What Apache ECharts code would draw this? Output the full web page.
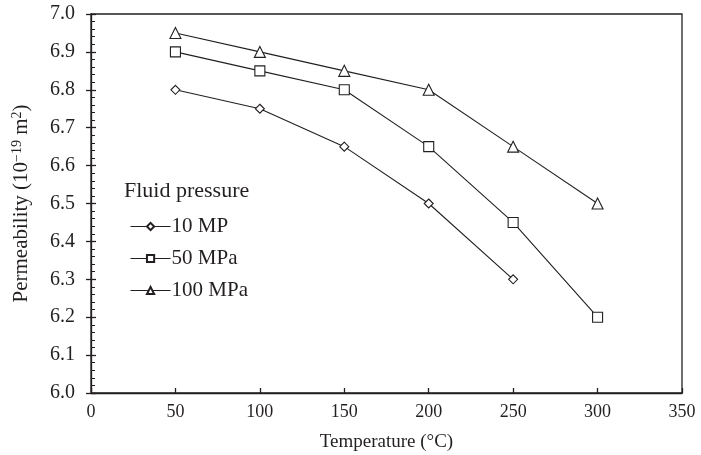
<!DOCTYPE html>
<html>
<head>
<meta charset="utf-8">
<script src="https://cdn.jsdelivr.net/npm/echarts@6/dist/echarts.min.js"></script>
<style>
  html, body { margin: 0; padding: 0; background: #fff; }
  #chart { width: 701px; height: 455px; }
</style>
</head>
<body>
<div id="chart"></div>
<script>
// Permeability vs temperature at three fluid pressures
const temperatures = [50, 100, 150, 200, 250, 300];
const seriesNames = ['10 MP', '50 MPa', '100 MPa'];
const perm10 = [6.80, 6.75, 6.65, 6.50, 6.30];
const perm50 = [6.90, 6.85, 6.80, 6.65, 6.45, 6.20];
const perm100 = [6.95, 6.90, 6.85, 6.80, 6.65, 6.50];
const xTicks = [0, 50, 100, 150, 200, 250, 300, 350];
const yTicks = [6.0, 6.1, 6.2, 6.3, 6.4, 6.5, 6.6, 6.7, 6.8, 6.9, 7.0];

const FONT = '"Liberation Serif", "Times New Roman", serif';
const INK = '#231f20';

function pairs(values) {
  return values.map((v, i) => [temperatures[i], v]);
}

const symbols = ['diamond', 'rect', 'triangle'];
const sizes = [9, 10, 11];
const dataSets = [perm10, perm50, perm100];

const chart = echarts.init(document.getElementById('chart'));
chart.setOption({
  animation: false,
  backgroundColor: '#fff',
  textStyle: { fontFamily: FONT, color: INK },
  title: {
    text: 'Fluid pressure',
    left: 119, top: 175,
    textStyle: { fontFamily: FONT, fontSize: 22, fontWeight: 'normal', color: INK }
  },
  legend: {
    orient: 'vertical',
    left: 125, top: 211,
    itemWidth: 40, itemHeight: 9,
    itemGap: 11,
    lineStyle: { width: 1.1 },
    textStyle: { fontFamily: FONT, fontSize: 21, color: INK, padding: [0, 0, 0, -4] },
    data: seriesNames
  },
  grid: {
    left: 91, right: 19, top: 14, bottom: 62,
    outerBoundsMode: 'none',
    containLabel: false,
    show: true, borderColor: INK, borderWidth: 1.3, backgroundColor: 'transparent'
  },
  xAxis: {
    type: 'value', min: xTicks[0], max: xTicks[xTicks.length - 1], interval: 50,
    name: 'Temperature (°C)', nameLocation: 'middle', nameGap: 40,
    nameTextStyle: { fontFamily: FONT, fontSize: 19, color: INK },
    axisLine: { lineStyle: { color: INK, width: 1.3 } },
    axisTick: { inside: true, length: 5, lineStyle: { color: INK, width: 1.3 } },
    axisLabel: { fontFamily: FONT, fontSize: 18, color: INK, margin: 10 },
    splitLine: { show: false }
  },
  yAxis: [{
    type: 'value', min: yTicks[0], max: yTicks[yTicks.length - 1], interval: 0.1,
    name: '{t|Permeability (10}{s|−19}{t| m}{s|2}{t|)}',
    nameLocation: 'middle', nameGap: 58, nameRotate: 90,
    nameTextStyle: {
      rich: {
        t: { fontFamily: FONT, fontSize: 21, color: INK },
        s: { fontFamily: FONT, fontSize: 14, color: INK, verticalAlign: 'top', padding: [0, 0, 9, 0] }
      }
    },
    axisLine: { lineStyle: { color: INK, width: 1.3 } },
    axisTick: { inside: true, length: 5, lineStyle: { color: INK, width: 1.3 } },
    minorTick: { show: true, splitNumber: 5, length: 4, lineStyle: { color: INK, width: 1 } },
    axisLabel: { fontFamily: FONT, fontSize: 20, color: INK, margin: 16, formatter: v => v.toFixed(1) },
    splitLine: { show: false }
  }, {
    // outward half of the major ticks
    type: 'value', position: 'left', offset: 0,
    min: yTicks[0], max: yTicks[yTicks.length - 1], interval: 0.1,
    axisLine: { show: false },
    axisTick: { inside: false, length: 5, lineStyle: { color: INK, width: 1.3 } },
    axisLabel: { show: false },
    splitLine: { show: false }
  }],
  series: dataSets.map((d, i) => ({
    name: seriesNames[i],
    type: 'line',
    data: pairs(d),
    symbol: symbols[i],
    symbolSize: sizes[i],
    showAllSymbol: true,
    lineStyle: { color: INK, width: 1.1 },
    itemStyle: { color: '#fff', borderColor: INK, borderWidth: 1.1 },
    emphasis: { disabled: true }
  }))
});
</script>
</body>
</html>
